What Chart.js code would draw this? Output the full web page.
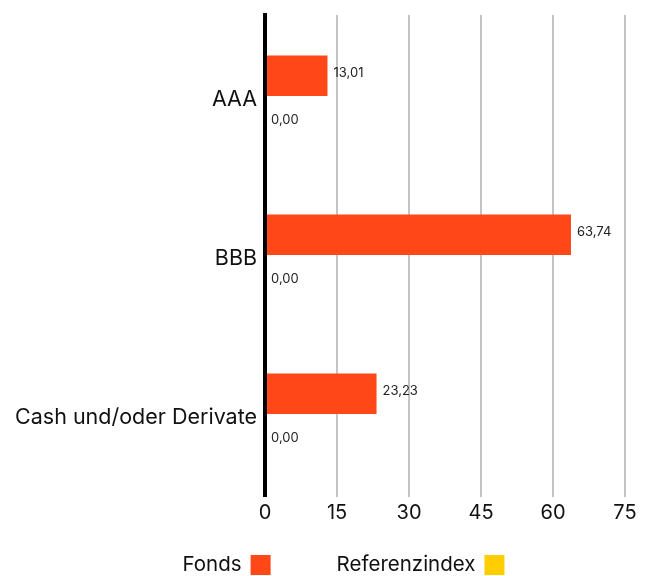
<!DOCTYPE html>
<html>
<head>
<meta charset="utf-8">
<script src="https://cdn.jsdelivr.net/npm/chart.js@4"></script>
<style>
	html, body { margin: 0; padding: 0; background: #fff; }
	#wrap { width: 653px; height: 576px; }
</style>
</head>
<body>
<div id="wrap"><canvas id="chart"></canvas></div>
<script>
// Chart data.
const categories = ["AAA", "BBB", "Cash und/oder Derivate"];
const fonds = [13.01, 63.74, 23.23];
const referenzindex = [0, 0, 0];
const xTicks = [0, 15, 30, 45, 60, 75];

const fontFamily = "Inter, 'Noto Sans', sans-serif";
const gridColor = v => v === 0 ? '#000' : '#c4c4c4';
const gridWidth = v => v === 0 ? 4 : 2;

// Write the value next to the end of every bar.
const valueLabels = {
	id: 'valueLabels',
	afterDatasetsDraw(chart) {
		const ctx = chart.ctx;
		ctx.save();
		ctx.font = "13px " + fontFamily;
		ctx.fillStyle = "#222";
		ctx.textBaseline = "middle";
		ctx.textAlign = "left";
		chart.data.datasets.forEach(function (ds, i) {
			chart.getDatasetMeta(i).data.forEach(function (bar, j) {
				const text = ds.data[j].toFixed(2).replace('.', ',');
				ctx.fillText(text, bar.x + 6, bar.y - 3);
			});
		});
		ctx.restore();
	}
};

// Let the vertical grid lines run a few pixels above the plot area.
const gridTop = {
	id: 'gridTop',
	beforeDatasetsDraw(chart) {
		const ctx = chart.ctx;
		const x = chart.scales.x;
		const top = chart.chartArea.top;
		ctx.save();
		x.ticks.forEach(function (t) {
			const px = x.getPixelForValue(t.value);
			ctx.strokeStyle = gridColor(t.value);
			ctx.lineWidth = gridWidth(t.value);
			ctx.beginPath();
			ctx.moveTo(px, top - (t.value === 0 ? 7 : 5));
			ctx.lineTo(px, top + 1);
			ctx.stroke();
		});
		ctx.restore();
	}
};

// Legend at the bottom: label text first, colour box after it.
const bottomLegend = {
	id: 'bottomLegend',
	afterDraw(chart) {
		const ctx = chart.ctx;
		const box = 20, textGap = 9, itemGap = 66;
		ctx.save();
		ctx.font = "20.5px " + fontFamily;
		ctx.textBaseline = "middle";
		ctx.textAlign = "left";
		const items = chart.data.datasets.map(ds => ({
			text: ds.label,
			color: ds.backgroundColor,
			width: ctx.measureText(ds.label).width
		}));
		let total = items.reduce((s, it) => s + it.width + textGap + box, 0) + itemGap * (items.length - 1);
		let x = chart.width / 2 + 17 - total / 2;
		const y = chart.height - 11;
		items.forEach(function (it) {
			ctx.fillStyle = "#111";
			ctx.fillText(it.text, x, y);
			x += it.width + textGap;
			ctx.fillStyle = it.color;
			ctx.fillRect(x, y - box / 2, box, box);
			x += box + itemGap;
		});
		ctx.restore();
	}
};

new Chart(document.querySelector('#chart'), {
	type: 'bar',
	data: {
		labels: categories,
		datasets: [{
			label: 'Fonds',
			data: fonds,
			backgroundColor: '#ff4717',
			categoryPercentage: 0.6,
			barPercentage: 0.85
		}, {
			label: 'Referenzindex',
			data: referenzindex,
			backgroundColor: '#ffce00',
			categoryPercentage: 0.6,
			barPercentage: 0.85
		}]
	},
	plugins: [gridTop, valueLabels, bottomLegend],
	options: {
		indexAxis: 'y',
		responsive: true,
		maintainAspectRatio: false,
		animation: false,
		layout: { padding: { top: 20, right: 28, left: 15, bottom: 47 } },
		scales: {
			x: {
				min: 0,
				max: 75,
				afterBuildTicks: function (axis) {
					axis.ticks = xTicks.map(v => ({ value: v }));
				},
				grid: {
					color: ctx => gridColor(ctx.tick ? ctx.tick.value : 1),
					lineWidth: ctx => gridWidth(ctx.tick ? ctx.tick.value : 1),
					drawTicks: false
				},
				border: { display: false },
				ticks: {
					font: { family: fontFamily, size: 20 },
					color: '#111',
					padding: 4
				}
			},
			y: {
				grid: { display: false },
				border: { display: false },
				ticks: {
					font: { family: fontFamily, size: 21.5 },
					color: '#111',
					padding: 0
				}
			}
		},
		plugins: {
			tooltip: { enabled: false },
			legend: { display: false }
		}
	}
});
</script>
</body>
</html>
